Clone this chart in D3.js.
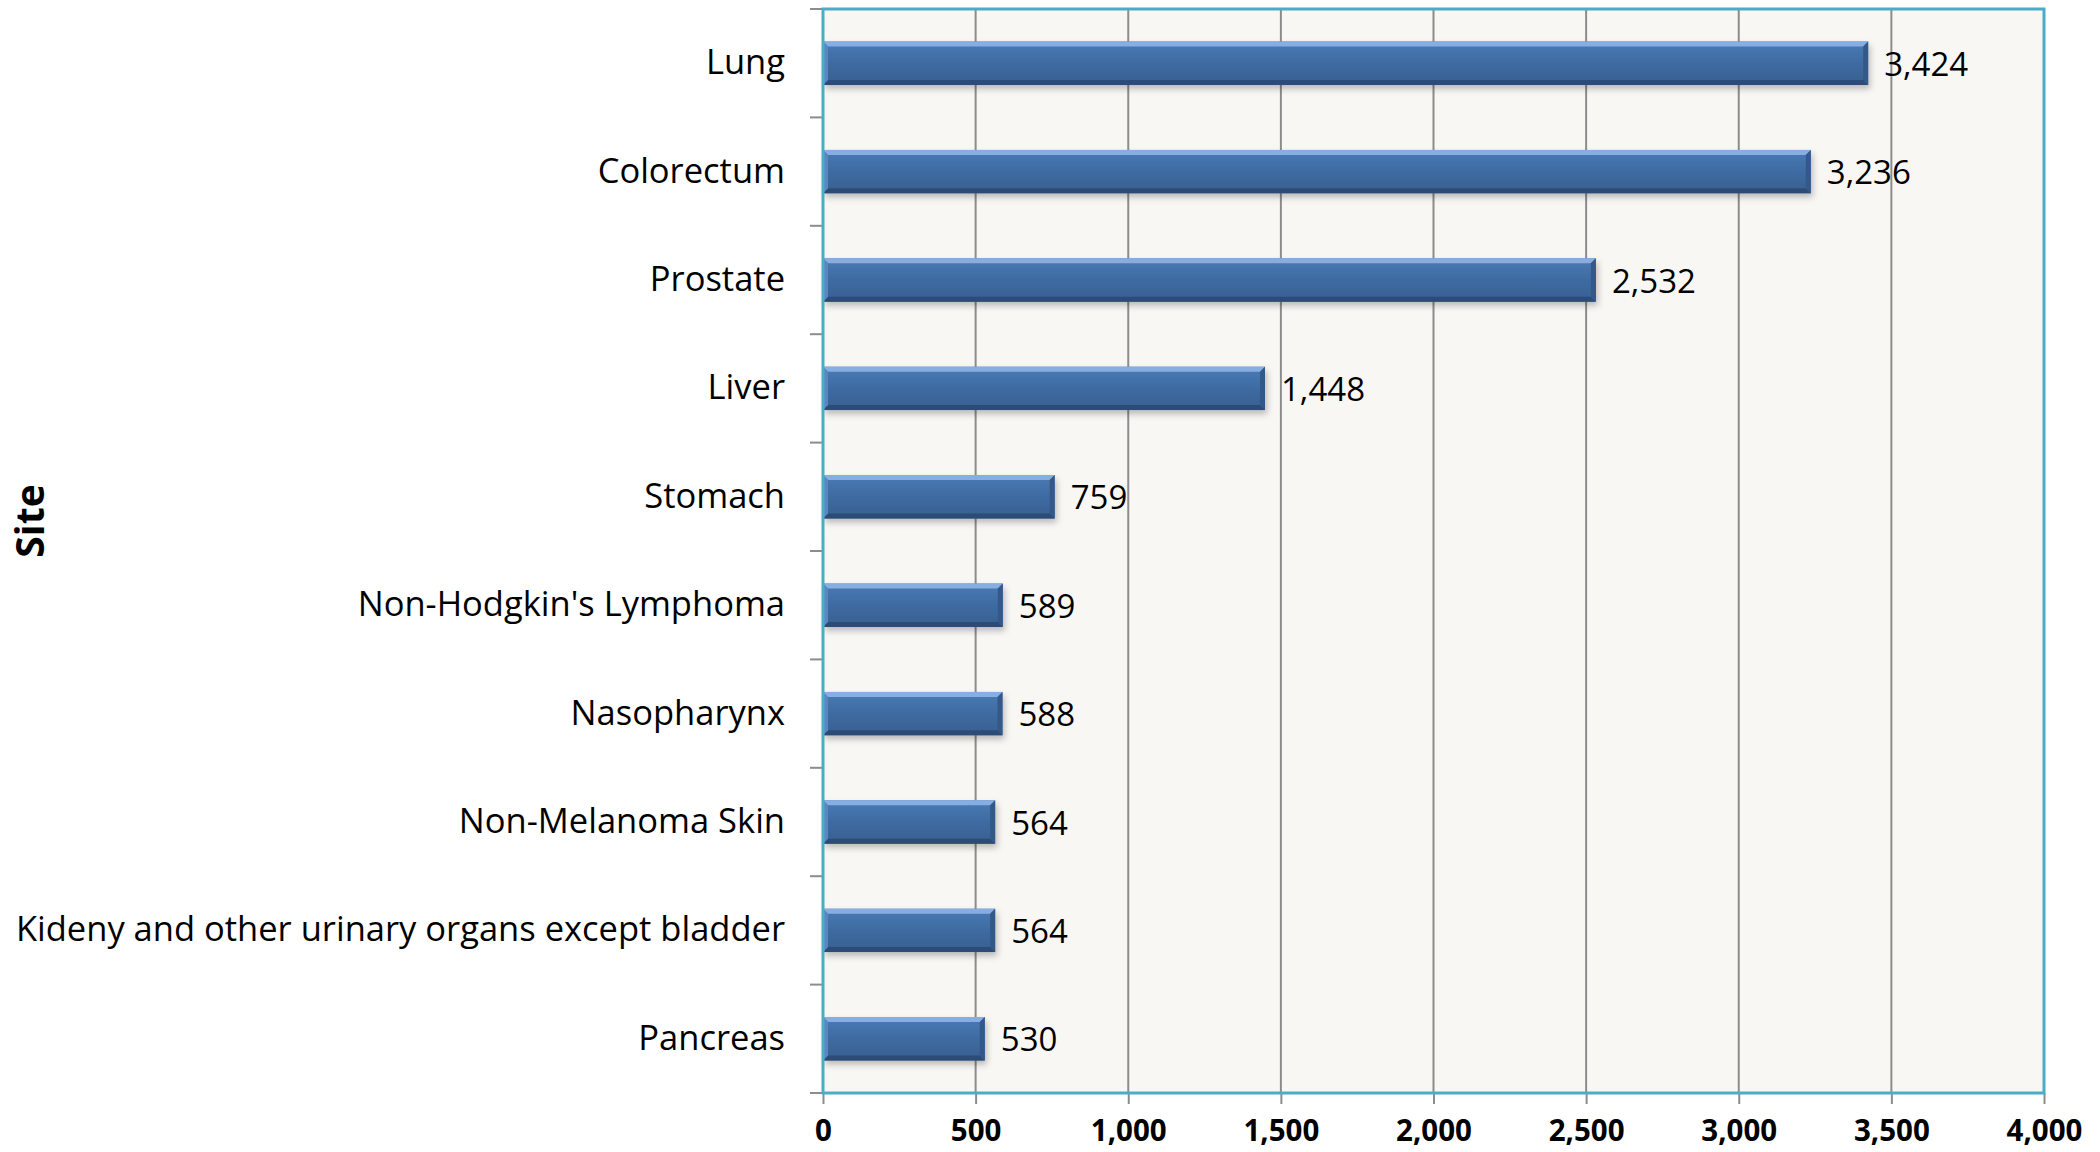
<!DOCTYPE html>
<html><head><meta charset="utf-8">
<script src="https://cdn.jsdelivr.net/npm/d3@7"></script>
<style>html,body{margin:0;padding:0;background:#fff;}svg{display:block;}</style>
</head><body>
<svg id="chart" width="2100" height="1152"></svg>
<script>
const categories = ["Lung","Colorectum","Prostate","Liver","Stomach","Non-Hodgkin's Lymphoma","Nasopharynx","Non-Melanoma Skin","Kideny and other urinary organs except bladder","Pancreas"];
const values = [3424,3236,2532,1448,759,589,588,564,564,530];
const xTicks = [0,500,1000,1500,2000,2500,3000,3500,4000];
const yTitle = "Site";

const svg = d3.select("#chart");
const L = 823, R = 2044, T = 9, B = 1093;
const font = "'Open Sans', sans-serif";

const x = d3.scaleLinear().domain([0,4000]).range([L,R]);
const y = d3.scaleBand().domain(categories).range([T,B]).paddingInner(0.6).paddingOuter(0.3);
const yb = d3.scaleBand().domain(categories).range([T,B]);

const defs = svg.append("defs");
const g1 = defs.append("linearGradient").attr("id","body").attr("x1",0).attr("y1",0).attr("x2",0).attr("y2",1);
[[0,"#4a7ab5"],[0.5,"#3e6ba1"],[1,"#385f91"]].forEach(s=>g1.append("stop").attr("offset",s[0]).attr("stop-color",s[1]));
const f = defs.append("filter").attr("id","sh").attr("x","-5%").attr("y","-20%").attr("width","110%").attr("height","160%");
f.append("feDropShadow").attr("dx",2).attr("dy",4).attr("stdDeviation",3).attr("flood-color","#000").attr("flood-opacity",0.25);

svg.append("rect").attr("x",L).attr("y",T).attr("width",R-L).attr("height",B-T).attr("fill","#f8f7f4");

svg.append("g").selectAll("line").data(xTicks.slice(1,-1)).join("line")
  .attr("x1",d=>x(d)).attr("x2",d=>x(d)).attr("y1",T).attr("y2",B)
  .attr("stroke","#8c8c8c").attr("stroke-width",2);

const xAxis = svg.append("g").attr("transform",`translate(0,${B})`)
  .call(d3.axisBottom(x).tickValues(xTicks).tickFormat(d3.format(",")).tickSize(11));
xAxis.select(".domain").remove();
xAxis.selectAll(".tick line").attr("stroke","#8c8c8c").attr("stroke-width",2);
xAxis.selectAll("text").attr("y",48).attr("dy",0)
  .attr("font-family",font).attr("font-weight","bold").attr("font-size",29.5).attr("fill","#000");

const yEdges = categories.map(c=>yb(c)).concat([B]);
svg.append("g").selectAll("line").data(yEdges).join("line")
  .attr("x1",L-13).attr("x2",L).attr("y1",d=>d).attr("y2",d=>d)
  .attr("stroke","#8c8c8c").attr("stroke-width",2);

const yAxis = svg.append("g").attr("transform",`translate(${L},0)`)
  .call(d3.axisLeft(y).tickSize(0).tickPadding(38));
yAxis.select(".domain").remove();
yAxis.selectAll("text").attr("font-family",font).attr("font-size",34.5).attr("fill","#000");

const bw = 5;
const bars = svg.append("g").selectAll("g").data(categories.map((c,i)=>({c,v:values[i]}))).join("g");
bars.append("rect").attr("x",x(0)).attr("y",d=>y(d.c)).attr("width",d=>x(d.v)-x(0)).attr("height",y.bandwidth())
  .attr("fill","url(#body)").attr("filter","url(#sh)");
bars.append("path").attr("fill","#86aee3").attr("d",d=>{const x0=x(0),x1=x(d.v),y0=y(d.c);return `M${x0},${y0}L${x1},${y0}L${x1-bw},${y0+bw}L${x0+bw},${y0+bw}Z`;});
bars.append("path").attr("fill","#2c4c75").attr("d",d=>{const x0=x(0),x1=x(d.v),y1=y(d.c)+y.bandwidth();return `M${x0},${y1}L${x1},${y1}L${x1-bw},${y1-bw}L${x0+bw},${y1-bw}Z`;});
bars.append("path").attr("fill","#5a87c2").attr("d",d=>{const x0=x(0),y0=y(d.c),y1=y0+y.bandwidth();return `M${x0},${y0}L${x0+bw},${y0+bw}L${x0+bw},${y1-bw}L${x0},${y1}Z`;});
bars.append("path").attr("fill","#33598a").attr("d",d=>{const x1=x(d.v),y0=y(d.c),y1=y0+y.bandwidth();return `M${x1},${y0}L${x1-bw},${y0+bw}L${x1-bw},${y1-bw}L${x1},${y1}Z`;});

bars.append("text").attr("x",d=>x(d.v)+16).attr("y",d=>y(d.c)+y.bandwidth()/2).attr("dy","0.38em")
  .attr("font-family",font).attr("font-size",33).attr("fill","#000").text(d=>d3.format(",")(d.v));

svg.append("rect").attr("x",L).attr("y",T).attr("width",R-L).attr("height",B-T)
  .attr("fill","none").attr("stroke","#4bacc6").attr("stroke-width",3);

svg.append("text").attr("transform","translate(30,521) rotate(-90)").attr("text-anchor","middle").attr("dy","0.36em")
  .attr("font-family",font).attr("font-weight","bold").attr("font-size",39).attr("fill","#000").text(yTitle);
</script>
</body></html>
